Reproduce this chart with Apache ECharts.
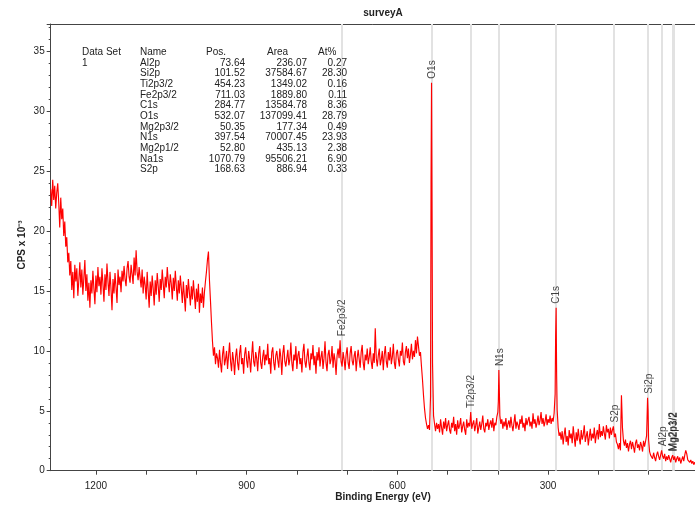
<!DOCTYPE html>
<html>
<head>
<meta charset="utf-8">
<script src="https://cdn.jsdelivr.net/npm/echarts@6/dist/echarts.min.js"></script>
<style>
  html, body { margin: 0; padding: 0; background: #fff; }
  #chart { width: 695px; height: 506px; }
</style>
</head>
<body>
<div id="chart"></div>
<script>
// ---- Survey spectrum (CPS x 10^-3), sampled every 2 eV, stored in segments ----
const SPECTRUM_STEP = 2;

// 1290 -> 980 eV : high-BE background
const highBandStart = 1290;
const highBand = [
  23.5, 22.1, 24.3, 22.6, 23.8, 21.9, 23.2, 24.0, 22.4, 20.3,
  22.8, 21.0, 21.9, 19.6, 20.8, 18.7, 19.5, 17.4, 18.2, 16.3,
  17.5, 15.1, 16.6, 14.4, 17.2, 15.8, 16.9, 14.6, 15.9, 17.4,
  15.3, 16.8, 14.7, 16.1, 17.6, 15.0, 16.4, 14.2, 15.7, 13.6,
  15.9, 14.8, 16.7, 15.2, 13.9, 16.3, 14.9, 17.0, 15.4, 16.2,
  14.7, 16.9, 15.6, 14.1, 16.4, 15.1, 17.3, 15.8, 14.6, 16.6,
  15.2, 13.4, 16.0, 14.8, 16.5, 15.3, 14.0, 16.8, 15.5, 16.2,
  14.9, 16.7, 15.8, 17.1, 16.0, 15.4, 16.9, 17.5, 16.2, 15.7,
  17.2, 16.4, 15.6, 17.8, 16.3, 18.4, 16.6, 15.9, 17.0, 16.1,
  15.3, 16.8, 14.8, 16.2, 15.5, 14.3, 16.6, 15.0, 13.6, 15.8,
  14.6, 16.3, 15.2, 13.8, 15.9, 14.7, 16.5, 15.4, 14.1, 16.0,
  15.1, 16.8, 15.6, 14.4, 16.2, 15.3, 17.0, 15.8, 14.9, 16.4,
  15.6, 14.3, 16.1, 15.0, 16.7, 15.4, 14.2, 15.9, 14.8, 16.3,
  15.2, 14.0, 15.8, 14.6, 13.3, 15.5, 14.4, 16.0, 14.9, 13.8,
  15.4, 14.3, 15.9, 14.7, 13.5, 15.2, 14.1, 15.6, 13.2, 14.8,
  14.0, 15.3, 13.6, 14.9, 15.8, 16.6
];

// 978 -> 960 eV : Auger feature and step down
const stepDownStart = 978;
const stepDown = [17.6, 18.3, 15.9, 14.2, 12.4, 10.8, 9.6, 10.3, 8.9, 9.8];

// 958 -> 560 eV : middle plateau
const midBandStart = 958;
const midBand = [
  9.4, 8.6, 10.1, 9.0, 8.2, 9.7, 10.4, 8.8, 9.3, 10.0,
  8.5, 9.6, 10.7, 9.1, 8.3, 9.9, 9.2, 8.0, 9.5, 10.2,
  9.0, 8.4, 9.8, 10.5, 8.9, 9.4, 8.1, 9.7, 10.3, 9.2,
  8.6, 10.0, 9.3, 8.2, 9.6, 10.8, 9.1, 8.7, 9.9, 9.4,
  8.3, 9.8, 10.4, 9.0, 8.5, 9.5, 10.1, 8.8, 9.7, 9.2,
  10.6, 8.9, 9.4, 8.1, 9.9, 10.3, 9.0, 8.4, 9.6, 10.0,
  9.2, 8.6, 10.2, 9.5, 8.0, 9.8, 10.5, 9.1, 8.7, 9.4,
  10.1, 8.8, 9.3, 10.7, 9.0, 8.3, 9.7, 9.2, 10.4, 8.5,
  9.6, 10.0, 8.9, 9.4, 8.2, 9.9, 10.6, 9.1, 8.6, 9.5,
  10.2, 9.0, 8.4, 9.8, 9.3, 10.5, 8.8, 9.6, 8.1, 9.9,
  9.2, 10.3, 8.7, 9.5, 10.0, 8.5, 9.4, 10.8, 9.0, 8.3,
  9.7, 10.1, 8.9, 9.3, 10.4, 8.6, 9.8, 9.2, 8.0, 9.6,
  10.2, 9.4, 10.9, 9.1, 8.7, 9.9, 9.3, 8.4, 9.7, 10.3,
  9.0, 8.5, 9.8, 10.4, 9.2, 8.8, 9.6, 10.0, 8.3, 9.4,
  10.1, 9.3, 8.6, 9.9, 10.5, 9.0, 8.4, 9.7, 9.2, 10.2,
  8.9, 9.5, 10.3, 9.1, 8.5, 9.8, 9.0, 11.9, 9.4, 8.7,
  9.6, 10.2, 8.8, 9.3, 10.0, 8.4, 9.7, 10.4, 9.1, 8.6,
  9.9, 9.2, 10.3, 8.9, 9.5, 10.6, 9.0, 8.5, 9.8, 10.1,
  9.3, 8.7, 10.0, 9.6, 10.7, 9.1, 8.8, 9.9, 10.4, 9.4,
  10.2, 9.0, 9.7, 10.6, 9.3, 10.0, 9.5, 10.9, 9.8, 11.2
];

// 558 -> 520 eV : O KLL edge and O1s
const oxygenStart = 558;
const oxygen = [
  10.4, 9.6, 9.9, 8.7, 7.6, 6.3, 5.2, 4.4, 3.9, 3.5,
  3.8, 3.4, 6.2, 32.4, 9.0, 4.6, 3.9, 3.3, 4.0, 3.5
];

// 518 -> 290 eV : Ti2p / N1s region
const lowBandStart = 518;
const lowBand = [
  3.9, 3.2, 4.3, 3.6, 3.0, 4.1, 3.5, 4.4, 3.3, 3.8,
  4.2, 3.4, 3.1, 4.0, 3.6, 4.5, 3.3, 3.9, 3.0, 4.2,
  3.5, 3.8, 4.4, 3.2, 3.7, 4.1, 3.4, 3.0, 4.3, 3.6,
  4.0, 3.7, 4.9, 3.5, 3.9, 4.2, 3.3, 3.8, 4.4, 3.1,
  3.6, 4.1, 3.4, 3.9, 4.6, 3.5, 3.2, 4.0, 3.7, 4.3,
  3.4, 3.9, 4.2, 3.6, 4.4, 3.3, 4.0, 3.8, 4.5, 4.9,
  8.4, 4.6, 3.9, 4.3, 3.5, 4.1, 3.7, 4.4, 3.4, 3.9,
  4.2, 3.6, 4.5, 3.8, 3.3, 4.0, 4.7, 3.5, 4.1, 3.8,
  3.4, 4.3, 3.9, 4.6, 3.6, 4.0, 3.3, 4.4, 3.8, 4.2,
  4.5, 3.7, 4.1, 3.5, 4.8, 3.9, 4.3, 3.6, 4.0, 4.6,
  3.8, 4.2, 4.9, 3.9, 4.4, 3.7, 4.1, 4.7, 3.8, 4.3,
  4.0, 4.6, 3.9, 4.4, 4.1
];

// 288 -> 276 eV : C1s
const carbonStart = 288;
const carbon = [4.8, 6.4, 13.6, 5.1, 3.6, 2.9, 3.2];

// 274 -> 108 eV : S2p / Si2s region
const siliconSStart = 274;
const siliconS = [
  2.6, 3.3, 2.2, 3.0, 3.6, 2.4, 2.9, 2.1, 3.4, 2.7,
  3.1, 2.3, 3.7, 2.8, 2.0, 3.2, 2.5, 3.5, 2.7, 2.2,
  3.4, 2.6, 3.0, 3.8, 2.4, 2.9, 3.3, 2.1, 2.8, 3.5,
  2.5, 3.1, 2.7, 3.6, 2.3, 3.0, 3.4, 2.6, 3.9, 2.8,
  3.3, 2.9, 3.7, 3.1, 2.6, 3.8, 3.2, 3.5, 2.7, 3.6,
  3.0, 3.4, 3.7, 2.8, 3.1, 2.4, 2.2, 1.8, 2.3, 1.7,
  6.3, 3.6, 2.5, 2.1, 2.6, 1.9, 2.3, 1.6, 2.2, 2.5,
  1.8, 2.4, 2.0, 1.5, 2.3, 2.6, 1.9, 2.2, 1.7, 2.4,
  2.1, 1.6, 2.5, 2.0
];

// 106 -> 96 eV : Si2p
const siliconPStart = 106;
const siliconP = [2.0, 2.9, 6.1, 2.6, 1.6, 1.3];

// 94 -> 0 eV : Al2p / Mg2p / valence region
const valenceStart = 94;
const valence = [
  1.4, 1.0, 1.5, 1.1, 0.8, 1.3, 1.6, 1.2, 0.9, 1.3,
  1.7, 1.2, 1.0, 1.4, 0.8, 1.2, 0.9, 1.3, 1.0, 0.7,
  1.1, 1.3, 0.9, 1.2, 0.7, 1.0, 1.2, 0.8, 1.1, 0.6,
  0.9, 1.2, 0.8, 1.3, 1.7, 1.4, 0.9, 1.0, 0.7, 0.9,
  0.6, 0.8, 0.5, 0.7, 0.6, 0.4, 0.6, 0.5
];

// Odd-eV readings on the flanks of the sharp lines (2 eV apart)
const o1sFlankStart = 533,  o1sFlank = [24.0, 21.5];
const n1sFlankStart = 399,  n1sFlank = [5.8, 6.6];
const c1sFlankStart = 285,  c1sFlank = [11.2, 8.0];
const si2sFlankStart = 155, si2sFlank = [4.2, 5.0];
const si2pFlankStart = 103, si2pFlank = [4.4, 5.0];

// ---- Quantification table ----
const peakNames = ['Al2p', 'Si2p', 'Ti2p3/2', 'Fe2p3/2', 'C1s', 'O1s', 'Mg2p3/2', 'N1s', 'Mg2p1/2', 'Na1s', 'S2p'];
const peakPos   = [73.64, 101.52, 454.23, 711.03, 284.77, 532.07, 50.35, 397.54, 52.80, 1070.79, 168.63];
const peakArea  = [236.07, 37584.67, 1349.02, 1889.80, 13584.78, 137099.41, 177.34, 70007.45, 435.13, 95506.21, 886.94];
const peakAtPct = [0.27, 28.30, 0.16, 0.11, 8.36, 28.79, 0.49, 23.93, 2.38, 6.90, 0.33];
const unmarkedPeaks = ['Na1s'];

// ---- Axis ticks ----
const xTickValues = [100, 200, 300, 400, 500, 600, 700, 800, 900, 1000, 1100, 1200];
const xLabelValues = [300, 600, 900, 1200];
const xRange = [7.6, 1290];
const yRange = [0, 37.3];

// Assemble the spectrum from its segments
const spectrum = [];
function appendSegment(start, values) {
  values.forEach((v, i) => spectrum.push([start - i * SPECTRUM_STEP, v]));
}
appendSegment(highBandStart, highBand);
appendSegment(stepDownStart, stepDown);
appendSegment(midBandStart, midBand);
appendSegment(oxygenStart, oxygen);
appendSegment(lowBandStart, lowBand);
appendSegment(carbonStart, carbon);
appendSegment(siliconSStart, siliconS);
appendSegment(siliconPStart, siliconP);
appendSegment(valenceStart, valence);
appendSegment(o1sFlankStart, o1sFlank);
appendSegment(n1sFlankStart, n1sFlank);
appendSegment(c1sFlankStart, c1sFlank);
appendSegment(si2sFlankStart, si2sFlank);
appendSegment(si2pFlankStart, si2pFlank);
spectrum.sort((a, b) => b[0] - a[0]);

// Peak markers: label sits on the highest count within +/-3 eV of the peak position
function localMax(pos) {
  let m = 0;
  spectrum.forEach(([e, v]) => { if (Math.abs(e - pos) <= 3 && v > m) m = v; });
  return m;
}
const markers = peakNames
  .map((name, i) => ({ name, pos: peakPos[i] }))
  .filter(p => unmarkedPeaks.indexOf(p.name) < 0);

const FONT = '"Liberation Sans", Arial, sans-serif';
const TXT = '#222';
const AXIS = '#444';

// Table drawn as plain text
const tableEls = [];
const rowY0 = 63, rowH = 10.65, headY = 52;
function txt(text, x, y, align) {
  tableEls.push({
    type: 'text', x, y, silent: true, z: 10,
    style: { text, fill: TXT, font: '10px ' + FONT, textAlign: align || 'left', textVerticalAlign: 'middle' }
  });
}
txt('Data Set', 82, headY);
txt('1', 82, rowY0);
txt('Name', 140, headY);
txt('Pos.', 206, headY);
txt('Area', 267, headY);
txt('At%', 318, headY);
peakNames.forEach((n, i) => {
  const y = rowY0 + i * rowH;
  txt(n, 140, y);
  txt(peakPos[i].toFixed(2), 245, y, 'right');
  txt(peakArea[i].toFixed(2), 307, y, 'right');
  txt(peakAtPct[i].toFixed(2), 347, y, 'right');
});

const chart = echarts.init(document.getElementById('chart'), null, { renderer: 'canvas' });
chart.setOption({
  animation: false,
  backgroundColor: '#fff',
  grid: {
    left: 50.7, right: 0, top: 24, bottom: 35.3,
    show: false
  },
  xAxis: {
    type: 'value', inverse: true, min: xRange[0], max: xRange[1],
    axisLine: { show: true, lineStyle: { color: AXIS, width: 1 } },
    axisTick: { show: true, length: 4, customValues: xTickValues, lineStyle: { color: AXIS } },
    axisLabel: {
      margin: 11, color: TXT, fontFamily: FONT, fontSize: 10,
      customValues: xLabelValues, formatter: v => String(v)
    },
    splitLine: { show: false }
  },
  yAxis: {
    type: 'value', min: yRange[0], max: yRange[1], interval: 5,
    axisLine: { show: true, lineStyle: { color: AXIS, width: 1 } },
    axisTick: { show: true, length: 4, lineStyle: { color: AXIS } },
    minorTick: { show: true, splitNumber: 5, length: 2, lineStyle: { color: AXIS } },
    axisLabel: { margin: 6, color: TXT, fontFamily: FONT, fontSize: 10, showMaxLabel: false },
    splitLine: { show: false }
  },
  graphic: [
    // top frame line of the plot
    { type: 'line', silent: true, shape: { x1: 50.7, y1: 24.5, x2: 695, y2: 24.5 },
      style: { stroke: AXIS, lineWidth: 1 } },
    { type: 'text', x: 383, y: 13, silent: true,
      style: { text: 'surveyA', fill: TXT, font: 'bold 10px ' + FONT, textAlign: 'center', textVerticalAlign: 'middle' } },
    { type: 'text', x: 383, y: 497, silent: true,
      style: { text: 'Binding Energy (eV)', fill: TXT, font: 'bold 10px ' + FONT, textAlign: 'center', textVerticalAlign: 'middle' } },
    { type: 'text', x: 22, y: 245, rotation: Math.PI / 2, silent: true,
      style: { text: 'CPS x 10\u207B\u00B3', fill: TXT, font: 'bold 10px ' + FONT, textAlign: 'center', textVerticalAlign: 'middle' } },
    ...tableEls
  ],
  series: [
    {
      // peak position guide lines, drawn beneath the spectrum
      type: 'line', name: 'guides', data: [], z: 1, silent: true,
      markLine: {
        silent: true, symbol: 'none', z: 1, label: { show: false },
        lineStyle: { color: '#e2e2e2', width: 2, type: 'solid' },
        data: markers.map(m => ({ xAxis: m.pos }))
      }
    },
    {
      type: 'line', name: 'survey', data: spectrum, showSymbol: false, symbol: 'none',
      lineStyle: { color: '#ff0000', width: 1.15 }, z: 10
    },
    {
      type: 'scatter', name: 'peak labels', symbol: 'circle', symbolSize: 1,
      itemStyle: { color: 'rgba(0,0,0,0)' }, z: 12, silent: true,
      data: markers.map(m => ({ value: [m.pos, localMax(m.pos)], name: m.name })),
      label: {
        show: true, position: 'inside', formatter: p => p.name, rotate: 90,
        align: 'left', verticalAlign: 'middle', offset: [4, 1],
        color: '#111', textBorderWidth: 0, fontFamily: FONT, fontSize: 10
      }
    }
  ]
});
</script>
</body>
</html>
